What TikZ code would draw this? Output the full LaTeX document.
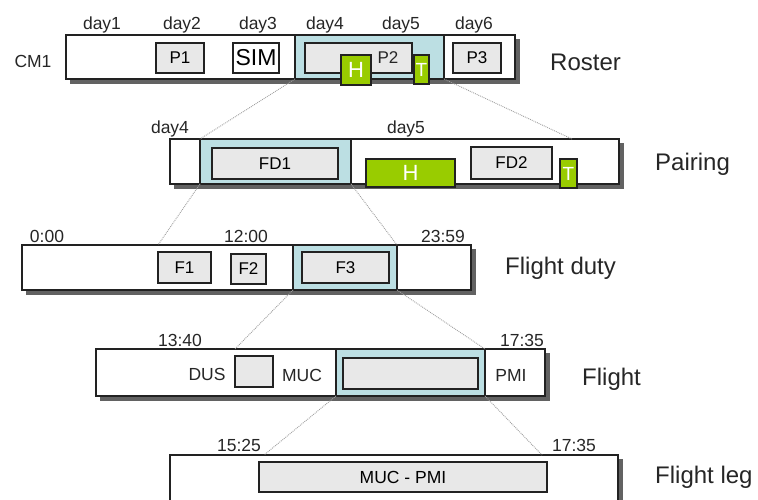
\documentclass[tikz,border=0pt]{standalone}
\usepackage{fontspec}
\setmainfont{Liberation Sans}
\definecolor{hl}{HTML}{BCDFE3}
\definecolor{boxgray}{HTML}{E8E8E8}
\definecolor{grn}{HTML}{99CC00}
\definecolor{shd}{HTML}{626262}
\definecolor{edge}{HTML}{222222}
\newcommand{\rbox}[7][]{\node[#1, anchor=north west, minimum width={(#5-#3)*1pt}, minimum height={(#6-#4)*1pt}] (#2) at (#3,#4) {#7};}
\tikzset{
  base/.style={inner sep=0pt, outer sep=0pt, draw=edge, line width=1.2pt},
  shadowfill/.style={fill=shd, draw=none},
  outerbox/.style={base, fill=white},
  hlbox/.style={base, fill=hl},
  graybox/.style={base, fill=boxgray, font=\fontsize{17}{19}\selectfont},
  whitebox/.style={base, fill=white},
  grnbox/.style={base, fill=grn, text=white},
  lbl/.style={inner sep=0pt, font=\fontsize{17.5}{20}\selectfont, text=black!85},
  title/.style={inner sep=0pt, anchor=west, font=\fontsize{24}{28}\selectfont, text=black!85},
  conn/.style={draw=gray!75, densely dotted, line width=0.9pt}
}
\begin{document}
\begin{tikzpicture}[x=1pt,y=-1pt]
\useasboundingbox (0,0) rectangle (758,499);
\clip (0,0) rectangle (758,499);
% ---------------- shadows
\path[shadowfill] (70,39) rectangle (519.5,83.5);
\path[shadowfill] (174,143) rectangle (623.5,188.5);
\path[shadowfill] (26,249) rectangle (475.5,294.5);
\path[shadowfill] (100,353) rectangle (549.5,400.5);
\path[shadowfill] (174,459) rectangle (622.5,514);
% ---------------- Roster
\rbox[outerbox]{roster}{66}{35}{515}{79}{}
\rbox[hlbox]{rblue}{295}{35}{444}{79}{}
\rbox[graybox]{p1}{156}{43}{204}{73}{P1}
\rbox[whitebox, font=\fontsize{23}{25}\selectfont]{sim}{233}{43}{279}{73}{SIM}
\rbox[graybox]{p2}{305}{43}{412}{73}{}
\node[lbl, font=\fontsize{17}{19}\selectfont] (p2t) at (388,58) {P2};
\rbox[graybox]{p3}{453}{43}{501}{73}{P3}
\rbox[grnbox, font=\fontsize{22}{24}\selectfont]{rh}{341}{55}{371}{85}{H}
\rbox[grnbox, font=\fontsize{19}{21}\selectfont]{rt}{414}{55}{429}{84}{T}
\node[lbl, anchor=base] (day1) at (102,29) {day1};
\node[lbl, anchor=base] (day2) at (182,29) {day2};
\node[lbl, anchor=base] (day3) at (258,29) {day3};
\node[lbl, anchor=base] (day4) at (325,29) {day4};
\node[lbl, anchor=base] (day5) at (401,29) {day5};
\node[lbl, anchor=base] (day6) at (474,29) {day6};
\node[lbl] (cm1) at (33,61) {CM1};
\node[title] (troster) at (550,62) {Roster};
% ---------------- Pairing
\rbox[outerbox]{pair}{170}{139}{619}{184}{}
\rbox[hlbox]{pblue}{200}{139}{351}{184}{}
\rbox[graybox]{fd1}{212}{148}{338}{179}{FD1}
\rbox[graybox]{fd2}{471}{147}{552}{179}{FD2}
\rbox[grnbox, font=\fontsize{22}{24}\selectfont]{ph}{366}{159}{455}{187}{H}
\rbox[grnbox, font=\fontsize{19}{21}\selectfont]{pt}{560}{159}{577}{188}{T}
\node[lbl, anchor=base] (pday4) at (170,133) {day4};
\node[lbl, anchor=base] (pday5) at (406,133) {day5};
\node[title] (tpair) at (655,164) {Pairing};
\coordinate (pairR) at (572,139);
% ---------------- Flight duty
\rbox[outerbox]{fd}{22}{245}{471}{290}{}
\rbox[hlbox]{fdblue}{293}{245}{397}{290}{}
\rbox[graybox]{f1}{158}{252}{211}{283}{F1}
\rbox[graybox]{f2}{231}{254}{266}{284}{F2}
\rbox[graybox]{f3}{302}{252}{389}{283}{F3}
\node[lbl, anchor=base] (t000) at (47,242) {0:00};
\node[lbl, anchor=base] (t1200) at (246,242) {12:00};
\node[lbl, anchor=base] (t2359) at (443,242) {23:59};
\node[title] (tfd) at (505,268) {Flight duty};
% ---------------- Flight
\rbox[outerbox]{fl}{96}{349}{545}{396}{}
\rbox[hlbox]{flblue}{336}{349}{485}{396}{}
\rbox[graybox]{dusbox}{235}{356}{273}{387}{}
\rbox[graybox]{flin}{343}{358}{478}{389}{}
\node[lbl, anchor=base] (t1340) at (180,346) {13:40};
\node[lbl, anchor=base] (t1735a) at (522,346) {17:35};
\node[lbl] (dus) at (207,374) {DUS};
\node[lbl] (muc) at (302,375) {MUC};
\node[lbl] (pmi) at (511,375) {PMI};
\node[title] (tfl) at (582,379) {Flight};
% ---------------- Flight leg
\rbox[outerbox]{leg}{170}{455}{618}{510}{}
\rbox[graybox, font=\fontsize{17.5}{20}\selectfont]{legin}{259}{462}{547}{492}{MUC - PMI}
\node[lbl, anchor=base] (t1525) at (239,451) {15:25};
\node[lbl, anchor=base] (t1735b) at (574,451) {17:35};
\node[title] (tleg) at (655,477) {Flight leg};
\coordinate (legL) at (264,455);
\coordinate (legR) at (542,455);
% ---------------- connectors
\draw[conn] (rblue.south west) -- (pblue.north west);
\draw[conn] (rblue.south east) -- (pairR);
\draw[conn] (pblue.south west) -- (f1.north west |- fd.north);
\draw[conn] (pblue.south east) -- (fdblue.north east);
\draw[conn] (fdblue.south west) -- (dusbox.north west |- fl.north);
\draw[conn] (fdblue.south east) -- (flblue.north east);
\draw[conn] (flblue.south west) -- (legL);
\draw[conn] (flblue.south east) -- (legR);
\end{tikzpicture}
\end{document}
